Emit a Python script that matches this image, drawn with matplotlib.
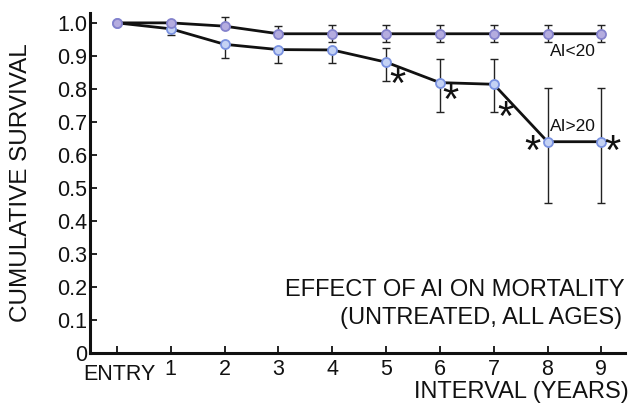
import matplotlib
matplotlib.use("Agg")
import matplotlib.pyplot as plt
import matplotlib.transforms as mtrans
import numpy as np

plt.rcParams['font.family'] = ['Liberation Sans', 'DejaVu Sans']

intervals = [0, 1, 2, 3, 4, 5, 6, 7, 8, 9]
tick_labels = ['ENTRY', '1', '2', '3', '4', '5', '6', '7', '8', '9']

ai_low = [1.0, 1.0, 0.99, 0.967, 0.967, 0.967, 0.967, 0.967, 0.967, 0.967]
ai_low_err_lo = [0, 0, 0, 0, 0.025, 0.025, 0.025, 0.025, 0.025, 0.025]
ai_low_err_hi = [0, 0, 0.027, 0.024, 0.026, 0.026, 0.026, 0.026, 0.026, 0.026]

ai_high = [1.0, 0.982, 0.935, 0.919, 0.918, 0.881, 0.819, 0.814, 0.640, 0.640]
ai_high_err_lo = [0, 0.018, 0.040, 0.041, 0.040, 0.057, 0.088, 0.083, 0.185, 0.185]
ai_high_err_hi = [0, 0, 0, 0, 0, 0.042, 0.071, 0.076, 0.164, 0.164]

star_x = [5.22, 6.2, 7.22, 7.72, 9.2]
star_y = [0.81, 0.76, 0.71, 0.605, 0.605]

fig = plt.figure(figsize=(6.32, 4.05), dpi=100)
ax = fig.add_axes([0.1424, 0.1284, 0.8466, 0.8396])

ax.errorbar(intervals, ai_low, yerr=[ai_low_err_lo, ai_low_err_hi], fmt='none',
            ecolor='#222222', elinewidth=1.0, capsize=3.2, capthick=1.0, zorder=2)
ax.errorbar(intervals, ai_high, yerr=[ai_high_err_lo, ai_high_err_hi], fmt='none',
            ecolor='#222222', elinewidth=1.0, capsize=3.2, capthick=1.0, zorder=2)
ax.plot(intervals, ai_high, '-', color='#111111', lw=2.0, zorder=3,
        marker='o', ms=6.5, mfc='#c4d2f4', mec='#7a92e0', mew=1.3)
ax.plot(intervals, ai_low, '-', color='#111111', lw=2.0, zorder=4,
        marker='o', ms=6.5, mfc='#b4acdf', mec='#8482cc', mew=1.3)

for sx, sy in zip(star_x, star_y):
    ax.text(sx, sy, '*', fontsize=30, ha='center', va='center', color='#111111')

ax.text(8.05, 0.912, 'AI<20', fontsize=12.5, ha='left', va='center', color='#111111')
ax.text(8.05, 0.685, 'AI>20', fontsize=12.5, ha='left', va='center', color='#111111')

ax.set_xlim(-0.5, 9.44)
ax.set_ylim(0, 1.03)
ax.set_xticks(intervals)
ax.set_xticklabels(tick_labels)
yt = [0, 0.1, 0.2, 0.3, 0.4, 0.5, 0.6, 0.7, 0.8, 0.9, 1.0]
ax.set_yticks(yt)
ax.set_yticklabels(['0'] + ['%.1f' % v for v in yt[1:]])
for s in ['top', 'right']:
    ax.spines[s].set_visible(False)
for s in ['left', 'bottom']:
    ax.spines[s].set_linewidth(2.2)
    ax.spines[s].set_color('#111111')
ax.tick_params(direction='in', length=5, width=1.3, colors='#111111',
               labelsize=15.5, pad=3)
ax.tick_params(axis='y', pad=2)
ax.tick_params(axis='x', pad=4)
lbls = ax.get_xticklabels()
lbls[0].set_fontsize(15.5)
lbls[0].set_transform(lbls[0].get_transform() +
                      mtrans.ScaledTranslation(2 / 72, -4 / 72, fig.dpi_scale_trans))
ax.set_ylabel('CUMULATIVE SURVIVAL', fontsize=17.5, color='#111111')
ax.yaxis.set_label_coords(-0.108, 0.5)

fig.text(0.989, 0.284, 'EFFECT OF AI ON MORTALITY', fontsize=17, ha='right', va='center', color='#111111')
fig.text(0.984, 0.215, '(UNTREATED, ALL AGES)', fontsize=17, ha='right', va='center', color='#111111')
fig.text(0.995, 0.032, 'INTERVAL (YEARS)', fontsize=17, ha='right', va='center', color='#111111')

fig.savefig('out.png', dpi=100)
